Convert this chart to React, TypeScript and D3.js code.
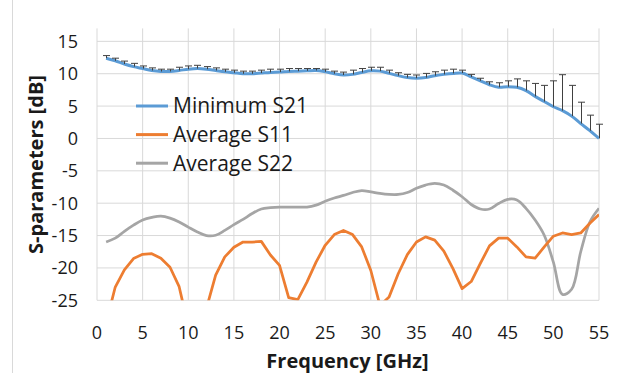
import * as d3 from "d3";

// frequency points, GHz
const freq = d3.range(1, 56);

// Minimum S21 [dB]
const s21 = [
  12.4, 12.0, 11.5, 11.1, 10.8, 10.5, 10.35, 10.35, 10.5, 10.7,
  10.8, 10.7, 10.5, 10.3, 10.15, 10.0, 10.0, 10.1, 10.2, 10.25,
  10.35, 10.4, 10.45, 10.5, 10.3, 10.0, 9.8, 9.9, 10.2, 10.45,
  10.4, 10.05, 9.7, 9.4, 9.3, 9.4, 9.7, 9.9, 10.05, 10.1,
  9.5, 8.9, 8.3, 7.9, 8.0, 7.9, 7.4, 6.5, 5.7, 4.9,
  4.3, 3.45, 2.3, 1.2, 0.0,
];

// plus error on S21 [dB]
const s21Err = [
  0.4, 0.4, 0.45, 0.5, 0.4, 0.4, 0.35, 0.35, 0.5, 0.5,
  0.5, 0.4, 0.4, 0.4, 0.4, 0.4, 0.4, 0.45, 0.5, 0.45,
  0.45, 0.4, 0.35, 0.3, 0.4, 0.4, 0.45, 0.65, 0.6, 0.55,
  0.6, 0.5, 0.45, 0.5, 0.5, 0.65, 0.6, 0.65, 0.65, 0.45,
  0.4, 0.4, 0.45, 0.7, 0.9, 1.3, 1.5, 2.0, 2.5, 4.0,
  5.55, 4.75, 3.3, 2.4, 2.2,
];

// Average S11 [dB]
const s11 = [
  -28.5, -22.95, -20.3, -18.55, -17.9, -17.8, -18.5, -19.9, -22.9, -29.0,
  -30.0, -26.2, -21.1, -18.3, -16.8, -16.0, -16.0, -15.9, -18.0, -19.6,
  -24.6, -24.9, -22.2, -19.1, -16.5, -14.85, -14.2, -14.85, -16.75, -20.4,
  -25.8, -24.5, -20.9, -17.95, -16.0, -15.2, -15.7, -17.4, -20.1, -23.2,
  -22.1, -19.3, -16.6, -15.4, -15.4, -16.75, -18.3, -18.5, -16.75, -15.1,
  -14.6, -14.85, -14.6, -13.1, -11.75,
];

// Average S22 [dB]
const s22 = [
  -16.0, -15.4, -14.35, -13.4, -12.6, -12.2, -12.0, -12.3, -12.9, -13.7,
  -14.45, -15.0, -14.95, -14.2, -13.3, -12.5, -11.6, -10.9, -10.7, -10.6,
  -10.6, -10.6, -10.6, -10.3, -9.7, -9.2, -8.8, -8.35, -8.05, -8.25,
  -8.5, -8.65, -8.65, -8.35, -7.7, -7.2, -6.95, -7.2, -8.0, -9.0,
  -10.2, -10.9, -10.9, -10.05, -9.4, -9.5, -10.8, -12.6, -14.95, -19.1,
  -24.1, -23.3, -17.5, -12.9, -10.8,
];

const xTicks = [0, 5, 10, 15, 20, 25, 30, 35, 40, 45, 50, 55];
const yTicks = [-25, -20, -15, -10, -5, 0, 5, 10, 15];

const legendItems = [
  { name: "Minimum S21", color: "#5B9BD5" },
  { name: "Average S11", color: "#ED7D31" },
  { name: "Average S22", color: "#A5A5A5" },
];

const font = "'Open Sans', 'Liberation Sans', sans-serif";

export default function App() {
  const width = 624;
  const height = 373;
  const plot = { left: 97, right: 599, top: 28.4, bottom: 300.3 };

  const x = d3.scaleLinear().domain([0, 55]).range([plot.left, plot.right]);
  const y = d3.scaleLinear().domain([-25, 17]).range([plot.bottom, plot.top]);

  const smooth = d3
    .line<number>()
    .x((_, i) => x(freq[i]))
    .y((d) => y(d))
    .curve(d3.curveCatmullRom.alpha(0.5));
  const straight = d3
    .line<number>()
    .x((_, i) => x(freq[i]))
    .y((d) => y(d));

  return (
    <svg
      width={width}
      height={height}
      style={{ position: "absolute", left: 0, top: 0, background: "#fff" }}
      fontFamily={font}
    >
      <defs>
        <clipPath id="plotClip">
          <rect
            x={plot.left}
            y={plot.top}
            width={plot.right - plot.left}
            height={plot.bottom - plot.top}
          />
        </clipPath>
      </defs>

      {/* chart area border */}
      <line x1={12.5} x2={12.5} y1={0} y2={height} stroke="#d9d9d9" />

      {/* gridlines */}
      {xTicks.map((t) => (
        <line
          key={"gx" + t}
          x1={x(t)}
          x2={x(t)}
          y1={plot.top}
          y2={plot.bottom}
          stroke="#d9d9d9"
          strokeWidth={1}
        />
      ))}
      {yTicks.map((t) => (
        <line
          key={"gy" + t}
          x1={plot.left}
          x2={plot.right}
          y1={y(t)}
          y2={y(t)}
          stroke="#d9d9d9"
          strokeWidth={1}
        />
      ))}

      {/* tick labels */}
      {yTicks.map((t) => (
        <text
          key={"ty" + t}
          x={78}
          y={y(t) + 6.5}
          textAnchor="end"
          fontSize={18}
          fill="#1a1a1a"
        >
          {t}
        </text>
      ))}
      {xTicks.map((t) => (
        <text
          key={"tx" + t}
          x={x(t)}
          y={339}
          textAnchor="middle"
          fontSize={18}
          fill="#1a1a1a"
        >
          {t}
        </text>
      ))}

      {/* axis titles */}
      <text
        transform={`translate(42.5,${164.5}) rotate(-90)`}
        textAnchor="middle"
        fontSize={20}
        fontWeight="bold"
        fill="#1a1a1a"
      >
        S-parameters [dB]
      </text>
      <text
        x={347.5}
        y={368}
        textAnchor="middle"
        fontSize={20}
        fontWeight="bold"
        fill="#1a1a1a"
      >
        Frequency [GHz]
      </text>

      <g clipPath="url(#plotClip)">
        <path
          d={smooth(s22) ?? ""}
          fill="none"
          stroke="#A5A5A5"
          strokeWidth={2.75}
          strokeLinejoin="round"
        />
        <path
          d={straight(s11) ?? ""}
          fill="none"
          stroke="#ED7D31"
          strokeWidth={2.75}
          strokeLinejoin="round"
        />
        <path
          d={smooth(s21) ?? ""}
          fill="none"
          stroke="#5B9BD5"
          strokeWidth={3}
          strokeLinejoin="round"
        />
      </g>

      {/* error bars (plus direction) */}
      <g stroke="#404040" strokeWidth={1}>
        {freq.map((f, i) => {
          const px = Math.round(x(f)) + 0.5;
          const top = y(s21[i] + s21Err[i]);
          return (
            <g key={"e" + f}>
              <line x1={px} x2={px} y1={y(s21[i])} y2={top} />
              <line x1={px - 3.5} x2={px + 3.5} y1={top} y2={top} />
            </g>
          );
        })}
      </g>

      {/* legend */}
      {legendItems.map((d, i) => {
        const ly = 106 + i * 28.6;
        return (
          <g key={d.name}>
            <line
              x1={136}
              x2={168}
              y1={ly}
              y2={ly}
              stroke={d.color}
              strokeWidth={3}
            />
            <text x={173} y={ly + 7.3} fontSize={21} fill="#1a1a1a">
              {d.name}
            </text>
          </g>
        );
      })}
    </svg>
  );
}
